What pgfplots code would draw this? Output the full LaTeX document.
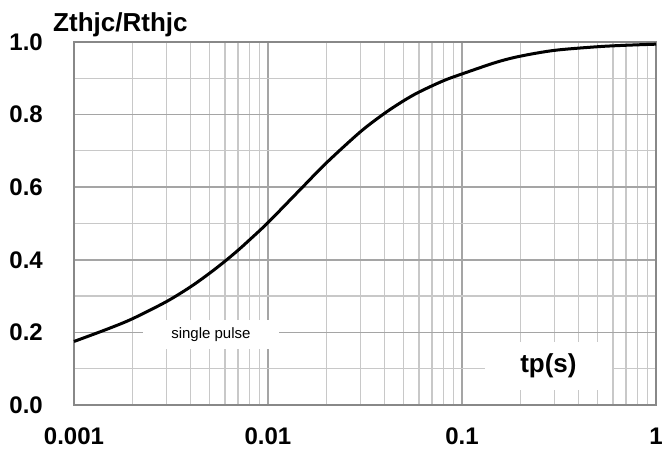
\documentclass[border=0pt]{standalone}
\usepackage{pgfplots}
\pgfplotsset{compat=1.18}
\usepackage{fontspec}
\setmainfont{Liberation Sans}
\definecolor{axgray}{RGB}{136,136,136}
\definecolor{majgray}{RGB}{165,165,165}
\definecolor{mingray}{RGB}{200,200,200}
\begin{document}
\begin{tikzpicture}
\begin{axis}[
  scale only axis,
  width=582pt, height=363pt,
  xmode=log,
  xmin=0.001, xmax=1,
  ymin=0, ymax=1,
  xtick={0.001,0.01,0.1,1},
  xticklabels={0.001,0.01,0.1,1},
  ytick={0,0.2,0.4,0.6,0.8,1.0},
  yticklabels={0.0,0.2,0.4,0.6,0.8,1.0},
  minor ytick={0.1,0.3,0.5,0.7,0.9},
  grid=both,
  major grid style={majgray, line width=1.6pt},
  minor grid style={mingray, line width=1.2pt},
  axis line style={axgray, line width=1.8pt},
  tick style={draw=none},
  ticklabel style={font=\bfseries\fontsize{24}{24}\selectfont},
  yticklabel style={anchor=east, inner sep=0pt, xshift=-31pt},
  xticklabel style={anchor=north, inner sep=0pt, yshift=-23pt},
  clip=false,
]
\node[fill=white, inner sep=0pt, minimum width=136pt, minimum height=29pt,
      font=\fontsize{15}{15}\selectfont] at (axis cs:0.00508,0.194) {single pulse};
\node[fill=white, inner sep=0pt, minimum width=127pt, minimum height=48pt,
      font=\bfseries\fontsize{26}{26}\selectfont] at (axis cs:0.279,0.107) {tp(s)};
\addplot[black, line width=3pt, smooth] coordinates {
(0.001,0.175) (0.0015,0.210) (0.002,0.2375) (0.003,0.285) (0.004,0.326)
(0.005,0.363) (0.006,0.396) (0.007,0.426) (0.008,0.454) (0.01,0.5025)
(0.015,0.599) (0.02,0.667) (0.03,0.753) (0.04,0.804) (0.05,0.838)
(0.06,0.862) (0.08,0.893) (0.1,0.912) (0.15,0.944) (0.2,0.961)
(0.3,0.977) (0.5,0.987) (0.7,0.991) (1,0.994)
};
\node[anchor=base west, inner sep=0pt, font=\bfseries\fontsize{26}{26}\selectfont]
  at ([yshift=10pt]rel axis cs:-0.036,1) {Zthjc/Rthjc};
\coordinate (sw) at (rel axis cs:0,0);
\coordinate (ne) at (rel axis cs:1,1);
\end{axis}
\pgfresetboundingbox
\path ([shift={(-74pt,-50pt)}]sw) rectangle ([shift={(6pt,42pt)}]ne);
\end{tikzpicture}
\end{document}
